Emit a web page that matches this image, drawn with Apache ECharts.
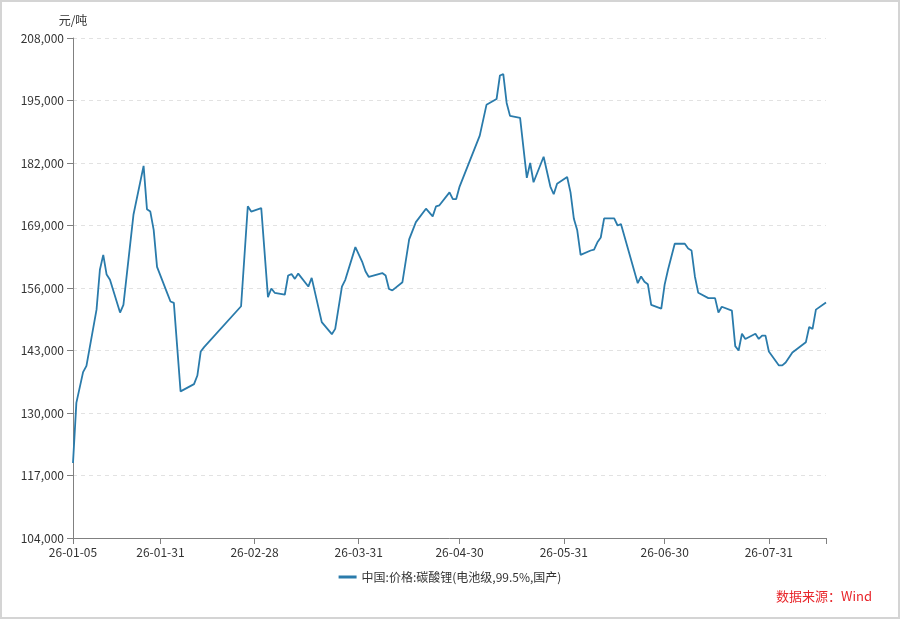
<!DOCTYPE html>
<html>
<head>
<meta charset="utf-8">
<script src="https://cdn.jsdelivr.net/npm/echarts@6/dist/echarts.min.js"></script>
<style>
  html, body { margin: 0; padding: 0; background: #fff; }
  #panel { width: 900px; height: 619px; box-sizing: border-box; border: 2px solid #d4d4d4; }
</style>
</head>
<body>
<div id="panel"></div>
<script>
// 碳酸锂价格 (元/吨)
var dates = ['26-01-05','26-01-06','26-01-08','26-01-09','26-01-12','26-01-13','26-01-14','26-01-15','26-01-16','26-01-19','26-01-20','26-01-23','26-01-26','26-01-27','26-01-28','26-01-29','26-01-30',
    '26-02-02','26-02-03','26-02-04','26-02-06','26-02-10','26-02-11','26-02-12','26-02-13','26-02-24','26-02-26','26-02-27',
    '26-03-02','26-03-04','26-03-05','26-03-06','26-03-09','26-03-10','26-03-11','26-03-12','26-03-13','26-03-16','26-03-17','26-03-20','26-03-23','26-03-24','26-03-26','26-03-27','26-03-30',
    '26-04-01','26-04-02','26-04-03','26-04-07','26-04-08','26-04-09','26-04-10','26-04-13','26-04-15','26-04-17','26-04-20','26-04-22','26-04-23','26-04-24','26-04-27','26-04-28','26-04-29','26-04-30',
    '26-05-06','26-05-08','26-05-11','26-05-12','26-05-13','26-05-14','26-05-15','26-05-18','26-05-20','26-05-21','26-05-22','26-05-25','26-05-27','26-05-28','26-05-29',
    '26-06-01','26-06-02','26-06-03','26-06-04','26-06-05','26-06-08','26-06-09','26-06-10','26-06-11','26-06-12','26-06-15','26-06-16','26-06-17','26-06-22','26-06-23','26-06-24','26-06-25','26-06-26','26-06-29','26-06-30',
    '26-07-01','26-07-03','26-07-06','26-07-07','26-07-08','26-07-09','26-07-10','26-07-13','26-07-15','26-07-16','26-07-17','26-07-20','26-07-21','26-07-22','26-07-23','26-07-24','26-07-27','26-07-28','26-07-29','26-07-30','26-07-31',
    '26-08-03','26-08-04','26-08-05','26-08-07','26-08-11','26-08-12','26-08-13','26-08-14','26-08-17'];
var prices = [119600,132100,138500,139800,151500,159800,162900,158800,157700,150900,152500,171300,181400,172400,171900,168100,160400,
    155000,153200,152900,134500,136000,137800,142800,143700,152200,173000,171900,
    172600,154100,155900,155000,154600,158600,158900,157900,159000,156300,158100,148900,146400,147500,156300,157700,164500,
    161500,159500,158300,159100,158600,155800,155500,157200,166100,169700,172500,170900,173000,173200,175900,174500,174500,177100,
    187700,194100,195300,200200,200500,194500,191800,191400,178900,182000,178000,183300,177100,175500,177700,
    179100,175900,170400,168000,162900,163800,164000,165500,166500,170500,170500,169000,169300,157000,158400,157300,156800,152500,151700,156700,
    159800,165200,165200,164200,163800,158400,155000,153900,153900,150900,152100,151300,143900,143000,146500,145400,146500,145400,146100,146100,142800,
    139900,139900,140500,142600,144700,147900,147500,151500,153000];
var tickLabels = ['26-01-05','26-01-31','26-02-28','26-03-31','26-04-30','26-05-31','26-06-30','26-07-31'];
var seriesName = '中国:价格:碳酸锂(电池级,99.5%,国产)';

// calendar-day axis from first to last date
function toUTC(s) {
    var p = s.split('-');
    return Date.UTC(2000 + parseInt(p[0], 10), parseInt(p[1], 10) - 1, parseInt(p[2], 10));
}
function fmt(t) {
    var d = new Date(t);
    var m = d.getUTCMonth() + 1, dd = d.getUTCDate();
    return String(d.getUTCFullYear()).slice(2) + '-' + (m < 10 ? '0' : '') + m + '-' + (dd < 10 ? '0' : '') + dd;
}
var days = [];
for (var t = toUTC(dates[0]); t <= toUTC(dates[dates.length - 1]); t += 86400000) {
    days.push(fmt(t));
}
var lineData = dates.map(function (d, i) { return [d, prices[i]]; });

var font = '"Microsoft YaHei", "Noto Sans CJK SC", sans-serif';
var axisGray = '#808080';

var myChart = echarts.init(document.getElementById('panel'));
myChart.setOption({
    backgroundColor: '#fff',
    animation: false,
    textStyle: { fontFamily: font },
    grid: { left: 71, right: 72, top: 36, bottom: 79, containLabel: false },
    legend: {
        top: 564,
        left: 'center',
        icon: 'rect',
        itemWidth: 18,
        itemHeight: 3,
        itemGap: 6,
        textStyle: { fontSize: 12, color: '#333', fontFamily: font },
        data: [seriesName]
    },
    graphic: [{
        type: 'text',
        right: 26,
        top: 588,
        style: { text: '数据来源：Wind', fill: '#e8262b', fontSize: 13, fontFamily: font }
    }],
    xAxis: {
        type: 'category',
        data: days,
        boundaryGap: false,
        axisLine: { lineStyle: { color: axisGray, width: 1 } },
        axisTick: {
            length: 6,
            lineStyle: { color: axisGray },
            interval: function (idx, val) { return tickLabels.indexOf(val) >= 0 || idx === days.length - 1; }
        },
        axisLabel: {
            color: '#333',
            fontSize: 12,
            margin: 8,
            interval: function (idx, val) { return tickLabels.indexOf(val) >= 0; }
        },
        splitLine: { show: false }
    },
    yAxis: {
        type: 'value',
        name: '元/吨',
        nameGap: 12,
        nameTextStyle: { color: '#333', fontSize: 12 },
        min: 104000,
        max: 208000,
        interval: 13000,
        axisLine: { show: true, lineStyle: { color: axisGray, width: 1 } },
        axisTick: { show: true, length: 6, lineStyle: { color: axisGray } },
        axisLabel: {
            color: '#333',
            fontSize: 12,
            margin: 9,
            formatter: function (v) { return v.toLocaleString('en-US'); }
        },
        splitLine: { show: true, lineStyle: { color: '#e2e2e2', type: [4, 4] } }
    },
    series: [{
        name: seriesName,
        type: 'line',
        data: lineData,
        connectNulls: true,
        showSymbol: false,
        symbol: 'none',
        lineStyle: { color: '#2a7bab', width: 1.8 },
        itemStyle: { color: '#2a7bab' }
    }]
});
</script>
</body>
</html>
